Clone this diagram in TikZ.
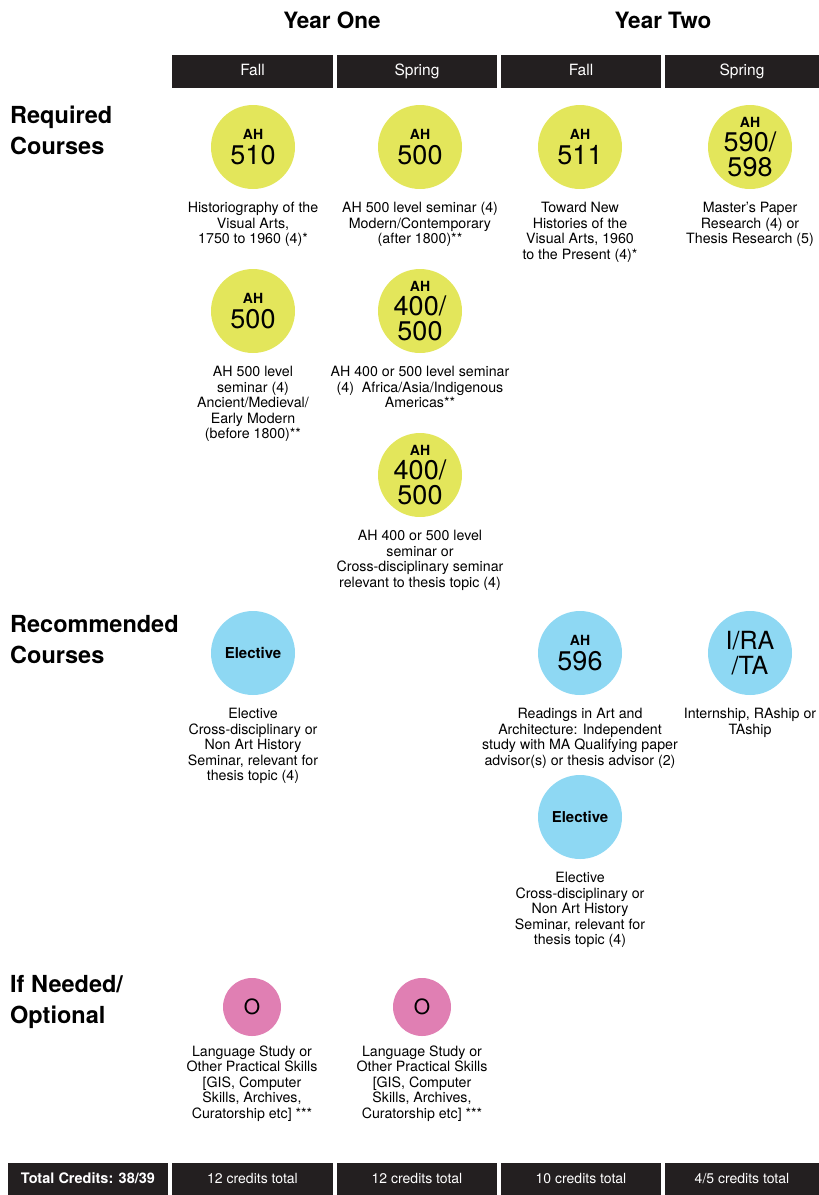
\documentclass[tikz,border=0pt]{standalone}
\usepackage{fontspec}
\setmainfont{TeX Gyre Heros}
\usetikzlibrary{positioning}
\definecolor{barblack}{HTML}{231F20}
\definecolor{reqyellow}{HTML}{E3E65B}
\definecolor{recblue}{HTML}{8ED8F3}
\definecolor{optpink}{HTML}{E07FB3}
\newcommand{\course}[2]{{\fontsize{14}{14}\selectfont\bfseries #1}\\#2}
\tikzset{
	bar/.style={fill=barblack,text=white,minimum height=33pt,inner sep=0pt,text height=11pt,text depth=3pt,font=\fontsize{15.5}{15.5}\selectfont},
	req/.style={circle,fill=reqyellow,minimum size=84pt,inner sep=0pt,align=center,font=\fontsize{27}{24.5}\selectfont},
	rec/.style={req,fill=recblue},
	opt/.style={circle,fill=optpink,minimum size=58pt,inner sep=0pt,font=\fontsize{21}{21}\selectfont},
	desc/.style={align=center,inner sep=0pt,font=\fontsize{14.2}{15.5}\selectfont},
	rowlabel/.style={align=left,anchor=north west,inner sep=0pt,font=\fontsize{23.5}{31}\selectfont\bfseries},
	year/.style={font=\fontsize{22.5}{22.5}\selectfont\bfseries}
}
\begin{document}
\begin{tikzpicture}[x=1pt,y=-1pt]
	\useasboundingbox (0,0) rectangle (819,1195);

	\node[year] (y1) at (332,20) {Year One};
	\node[year] (y2) at (663,20) {Year Two};
	\node[bar,minimum width=161pt] (f1) at (252.5,71.5) {Fall};
	\node[bar,minimum width=160pt] (s1) at (417,71.5) {Spring};
	\node[bar,minimum width=160pt] (f2) at (581,71.5) {Fall};
	\node[bar,minimum width=154pt] (s2) at (742,71.5) {Spring};

	\node[rowlabel] (lreq) at (10,106) {Required\\Courses};
	\node[rowlabel] (lrec) at (10,615) {Recommended\\Courses};
	\node[rowlabel] (lopt) at (10,975) {If Needed/\\Optional};

	\node[req] (c510) at (253,147) {\course{AH}{510}};
	\node[desc,below=13pt of c510] (d510) {Historiography of the\\Visual Arts,\\1750 to 1960 (4)*};
	\node[req] (c500a) at (420,147) {\course{AH}{500}};
	\node[desc,below=13pt of c500a] (d500a) {AH 500 level seminar (4)\\Modern/Contemporary\\(after 1800)**};
	\node[req] (c511) at (580,147) {\course{AH}{511}};
	\node[desc,below=13pt of c511] (d511) {Toward New\\Histories of the\\Visual Arts, 1960\\to the Present (4)*};
	\node[req] (c590) at (750,147) {\course{AH}{590/\\598}};
	\node[desc,below=13pt of c590] (d590) {Master's Paper\\Research (4) or\\Thesis Research (5)};

	\node[req] (c500b) at (253,311) {\course{AH}{500}};
	\node[desc,below=13pt of c500b] (d500b) {AH 500 level\\seminar (4)\\Ancient/Medieval/\\Early Modern\\(before 1800)**};
	\node[req] (c400a) at (420,311) {\course{AH}{400/\\500}};
	\node[desc,below=13pt of c400a] (d400a) {AH 400 or 500 level seminar\\(4)\ \ Africa/Asia/Indigenous\\Americas**};
	\node[req] (c400b) at (420,475) {\course{AH}{400/\\500}};
	\node[desc,below=13pt of c400b] (d400b) {AH 400 or 500 level\\seminar or\\Cross-disciplinary seminar\\relevant to thesis topic (4)};

	\node[rec,font=\fontsize{15}{15}\selectfont\bfseries] (ce1) at (253,653) {Elective};
	\node[desc,below=13pt of ce1] (de1) {Elective\\Cross-disciplinary or\\Non Art History\\Seminar, relevant for\\thesis topic (4)};
	\node[rec] (c596) at (580,653) {\course{AH}{596}};
	\node[desc,below=13pt of c596] (d596) {Readings in Art and\\Architecture: Independent\\study with MA Qualifying paper\\advisor(s) or thesis advisor (2)};
	\node[rec,font=\fontsize{25}{25}\selectfont] (cira) at (750,653) {I/RA\\/TA};
	\node[desc,below=13pt of cira] (dira) {Internship, RAship or\\TAship};
	\node[rec,font=\fontsize{15}{15}\selectfont\bfseries] (ce2) at (580,817) {Elective};
	\node[desc,below=13pt of ce2] (de2) {Elective\\Cross-disciplinary or\\Non Art History\\Seminar, relevant for\\thesis topic (4)};

	\node[opt] (co1) at (252,1007) {O};
	\node[desc,below=9pt of co1] (do1) {Language Study or\\Other Practical Skills\\\relax[GIS, Computer\\Skills, Archives,\\Curatorship etc] ***};
	\node[opt] (co2) at (422,1007) {O};
	\node[desc,below=9pt of co2] (do2) {Language Study or\\Other Practical Skills\\\relax[GIS, Computer\\Skills, Archives,\\Curatorship etc] ***};

	\node[bar,minimum width=160pt,minimum height=32pt,font=\fontsize{14.5}{14.5}\selectfont\bfseries] (tot) at (88,1179) {Total Credits: 38/39};
	\node[bar,minimum width=161pt,minimum height=32pt,font=\fontsize{14}{14}\selectfont] (t1) at (252.5,1179) {12 credits total};
	\node[bar,minimum width=160pt,minimum height=32pt,font=\fontsize{14}{14}\selectfont] (t2) at (417,1179) {12 credits total};
	\node[bar,minimum width=160pt,minimum height=32pt,font=\fontsize{14}{14}\selectfont] (t3) at (581,1179) {10 credits total};
	\node[bar,minimum width=154pt,minimum height=32pt,font=\fontsize{14}{14}\selectfont] (t4) at (742,1179) {4/5 credits total};
\end{tikzpicture}
\end{document}
